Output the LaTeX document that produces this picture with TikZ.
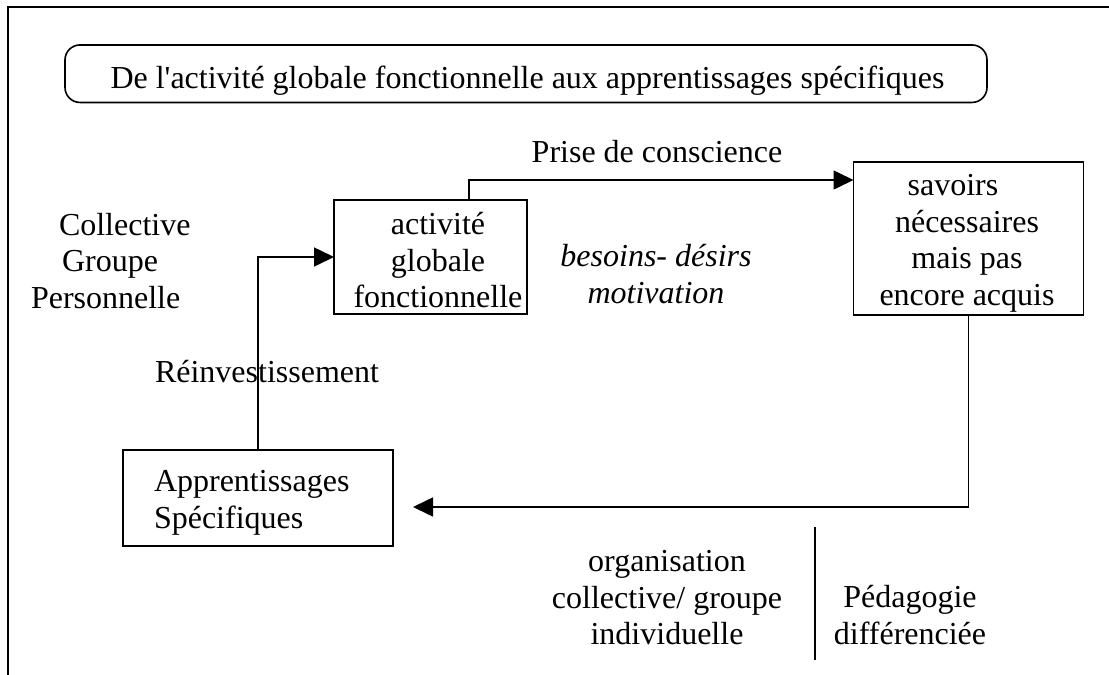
\documentclass[tikz,border=0pt]{standalone}
\usepackage{fontspec}
\setmainfont{Liberation Serif}[Ligatures=TeXOff]
\usetikzlibrary{arrows.meta}
\begin{document}
\begin{tikzpicture}[x=1pt,y=-1pt,
  every node/.style={font=\fontsize{32}{36.5}\selectfont, inner sep=0pt, outer sep=0pt},
  box/.style={draw, line width=1.6pt},
  conn/.style={line width=1.6pt},
  tip/.style={-{Triangle[length=20pt,width=19pt]}},
  frame/.style={line width=2.2pt}]
\useasboundingbox (0,0) rectangle (1109,675);
% outer frame (left and top)
\coordinate (fbl) at (8,675);
\coordinate (ftl) at (8,7);
\coordinate (ftr) at (1109,7);
\draw[frame] (fbl) -- (ftl) -- (ftr);
% title
\node[box, rounded corners=15pt, minimum width=922pt, minimum height=57.5pt] (title) at (526,73.7) {};
\node[anchor=base] (titletext) at (527.5,88) {De l'activité globale fonctionnelle aux apprentissages spécifiques};
% boxes
\node[box, minimum width=193pt, minimum height=114pt] (act) at (430.5,257) {};
\node[align=center] (acttext) at (438,260.5) {activité\\globale\\fonctionnelle};
\node[box, minimum width=230pt, minimum height=153pt] (sav) at (968.5,238.5) {};
\node[align=center] (savtext) at (967,243.5) {savoirs\hspace*{28pt}\\nécessaires\\mais pas\\encore acquis};
\node[box, minimum width=270pt, minimum height=96pt] (app) at (258,498) {};
\node[align=left, anchor=west] (apptext) at (154,503) {Apprentissages\\Spécifiques};
% free texts
\node[align=left, anchor=west] (modes) at (31,261) {\hspace*{28pt}Collective\\\hspace*{31pt}Groupe\\Personnelle};
\node[anchor=base] (prise) at (657,162) {Prise de conscience};
\node[align=center, font=\fontsize{32}{36.5}\selectfont\itshape] (besoins) at (656,274) {besoins- désirs\\motivation};
\node[anchor=base] (reinv) at (267,382) {Réinvestissement};
\node[align=center] (orga) at (667,598) {organisation\\collective/ groupe\\individuelle};
\node[align=center] (peda) at (910,615) {Pédagogie\\différenciée};
% separator
\coordinate (septop) at (815,527);
\coordinate (sepbot) at (815,660);
\draw[conn] (septop) -- (sepbot);
% connectors
\draw[conn,tip] ([xshift=38.5pt]act.north) |- ([yshift=-18pt]sav.north west);
\draw[conn,tip] (app.north) |- (act.west);
\draw[conn,tip] (sav.south) |- ([xshift=20pt,yshift=-9pt]app.east);
\end{tikzpicture}
\end{document}
